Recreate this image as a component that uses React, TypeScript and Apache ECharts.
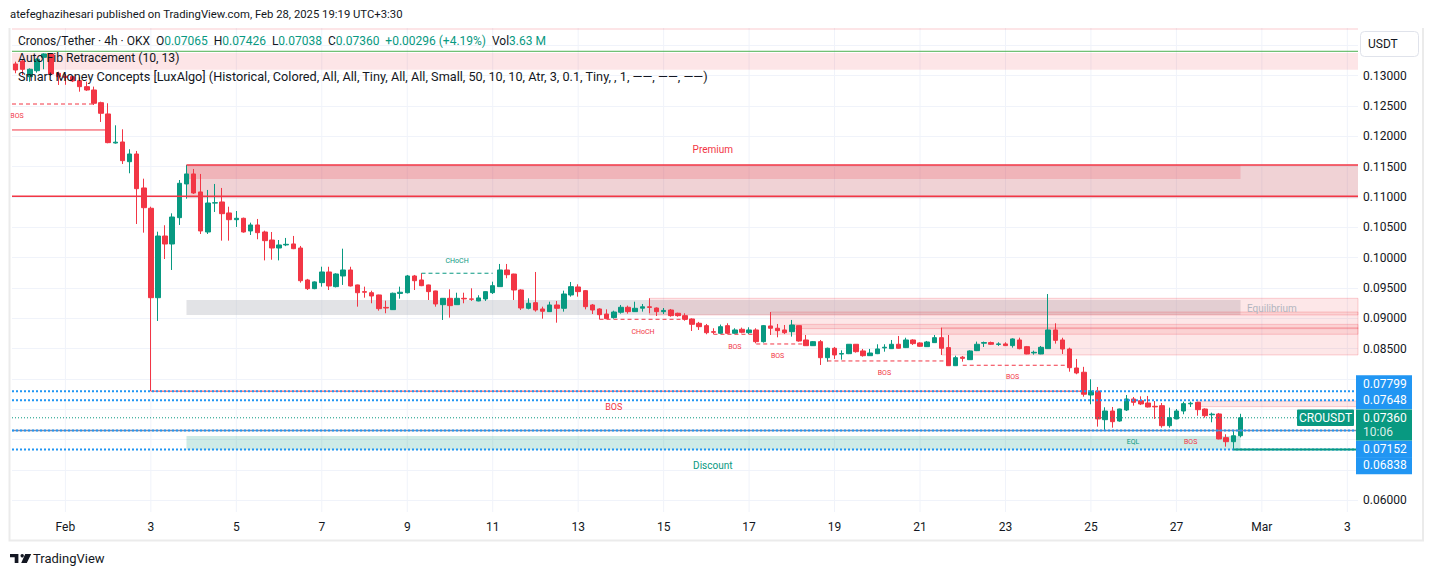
import { useEffect, useRef } from 'react';
import * as echarts from 'echarts';

const FONT = 'Roboto, "Noto Sans", sans-serif';
const TEXT = '#131722';
const UP = '#089981';
const DOWN = '#f23645';
const BLUE = '#2196f3';

// ---- time slots (4h candles) ----
const START_UTC = Date.UTC(2025, 0, 30, 20);
const SLOT_MS = 4 * 3600 * 1000;
const SLOT_COUNT = 189;
const MONTHS = ['Jan', 'Feb', 'Mar'];

// ---- price axis ----
const PRICE_MIN = 0.05807;
const PRICE_MAX = 0.13786;
const PRICE_STEP = 0.005;
// tick labels hidden behind the currency box and the price tags
const hiddenTickRanges: number[][] = [[0.1325, 1], [0.0625, 0.0825]];

// ---- candles: [open, close, low, high] ----
const candles: number[][] = [
  [0.13193, 0.13094, 0.1304, 0.13231], [0.13242, 0.13105, 0.13011, 0.13259], [0.12984, 0.13106, 0.12901, 0.1312],
  [0.13082, 0.1327, 0.1305, 0.13287], [0.13303, 0.13358, 0.13106, 0.13369], [0.13358, 0.13028, 0.12995, 0.1337],
  [0.1304, 0.12984, 0.12847, 0.13066], [0.1299, 0.1297, 0.1285, 0.1303], [0.12984, 0.12913, 0.12895, 0.12995],
  [0.12918, 0.12819, 0.12736, 0.12973], [0.12819, 0.12764, 0.1275, 0.12901], [0.12764, 0.12545, 0.12517, 0.1282],
  [0.12555, 0.1238, 0.12237, 0.12571], [0.12369, 0.11896, 0.11886, 0.12545], [0.1189, 0.11904, 0.1188, 0.12182],
  [0.11907, 0.11599, 0.11544, 0.12116], [0.11582, 0.11709, 0.11391, 0.11787], [0.11709, 0.11137, 0.10555, 0.11759],
  [0.11149, 0.10824, 0.10412, 0.11302], [0.10814, 0.0934, 0.07799, 0.1084], [0.0934, 0.10357, 0.08956, 0.10428],
  [0.10357, 0.10225, 0.09978, 0.10534], [0.10225, 0.1067, 0.09797, 0.10731], [0.10659, 0.11226, 0.10539, 0.1128],
  [0.11215, 0.1138, 0.10972, 0.11528], [0.1138, 0.11066, 0.1105, 0.11462], [0.11083, 0.1044, 0.1039, 0.1138],
  [0.10423, 0.10901, 0.1039, 0.11116], [0.109, 0.10906, 0.10753, 0.11215], [0.10918, 0.10725, 0.1028, 0.11149],
  [0.10737, 0.10626, 0.1028, 0.1084], [0.10626, 0.10649, 0.10506, 0.10769], [0.10649, 0.10423, 0.10412, 0.1066],
  [0.1044, 0.10539, 0.10374, 0.10577], [0.10539, 0.10412, 0.10303, 0.10638], [0.10423, 0.1028, 0.09955, 0.10445],
  [0.10291, 0.10159, 0.09966, 0.10423], [0.10159, 0.10209, 0.09955, 0.10291], [0.1021, 0.1022, 0.1019, 0.10325],
  [0.10226, 0.10148, 0.1014, 0.10358], [0.10159, 0.0962, 0.09588, 0.10193], [0.09632, 0.09489, 0.09467, 0.0965],
  [0.09489, 0.096, 0.0948, 0.0961], [0.09588, 0.09764, 0.09522, 0.09851], [0.09764, 0.09533, 0.09467, 0.0985],
  [0.09522, 0.09731, 0.0951, 0.09743], [0.09698, 0.09797, 0.0955, 0.10148], [0.09797, 0.09533, 0.09525, 0.0985],
  [0.0955, 0.09422, 0.09192, 0.09555], [0.0944, 0.0943, 0.0934, 0.09522], [0.09422, 0.09368, 0.09248, 0.09455],
  [0.09385, 0.09159, 0.09126, 0.0939], [0.0918, 0.0917, 0.09083, 0.09291], [0.09143, 0.09413, 0.09137, 0.09424],
  [0.0941, 0.0943, 0.09324, 0.09522], [0.09422, 0.09698, 0.0941, 0.09715], [0.09698, 0.0962, 0.09467, 0.09715],
  [0.09632, 0.09538, 0.0953, 0.09743], [0.0955, 0.0944, 0.09302, 0.09555], [0.09451, 0.09236, 0.09192, 0.09455],
  [0.09225, 0.0933, 0.08973, 0.09335], [0.0933, 0.09209, 0.09011, 0.09478], [0.09225, 0.0933, 0.0922, 0.09422],
  [0.0933, 0.0932, 0.09248, 0.09422], [0.0932, 0.09314, 0.09286, 0.09495], [0.09286, 0.09336, 0.0928, 0.0938],
  [0.09319, 0.0944, 0.09286, 0.09445], [0.09423, 0.09538, 0.09401, 0.09604], [0.09522, 0.09797, 0.09522, 0.09896],
  [0.09797, 0.09719, 0.0966, 0.09896], [0.0973, 0.09467, 0.09302, 0.09735], [0.09467, 0.0917, 0.09137, 0.09478],
  [0.09165, 0.09248, 0.09148, 0.0933], [0.09258, 0.09137, 0.0911, 0.09764], [0.09154, 0.09116, 0.08994, 0.09192],
  [0.0911, 0.0922, 0.09105, 0.09274], [0.0922, 0.09165, 0.08928, 0.09286], [0.09165, 0.09401, 0.0911, 0.09456],
  [0.09385, 0.09522, 0.09357, 0.09599], [0.09517, 0.0944, 0.09357, 0.09561], [0.09456, 0.09192, 0.09148, 0.09467],
  [0.0922, 0.09137, 0.09071, 0.09236], [0.09154, 0.0906, 0.08984, 0.09165], [0.09071, 0.08994, 0.0899, 0.09148],
  [0.09011, 0.09104, 0.08994, 0.09126], [0.091, 0.09182, 0.09077, 0.0922], [0.09182, 0.0911, 0.09077, 0.09209],
  [0.0911, 0.09165, 0.09105, 0.09274], [0.09167, 0.0919, 0.0911, 0.09236], [0.0919, 0.0918, 0.09083, 0.0933],
  [0.0917, 0.0911, 0.09038, 0.0918], [0.0911, 0.0913, 0.09071, 0.0917], [0.09137, 0.09044, 0.09027, 0.09154],
  [0.09083, 0.09044, 0.09027, 0.09093], [0.09044, 0.08984, 0.08961, 0.09083], [0.08989, 0.08901, 0.08791, 0.09],
  [0.08918, 0.08862, 0.08808, 0.08941], [0.08879, 0.08763, 0.08737, 0.08907], [0.0878, 0.0877, 0.0874, 0.08836],
  [0.08753, 0.08862, 0.0874, 0.08897], [0.08879, 0.08753, 0.0874, 0.08918], [0.08753, 0.08808, 0.0874, 0.08836],
  [0.08819, 0.0877, 0.08753, 0.08847], [0.08763, 0.08808, 0.0874, 0.08852], [0.08808, 0.08615, 0.08588, 0.08836],
  [0.08615, 0.08879, 0.08599, 0.0889], [0.08874, 0.08836, 0.08725, 0.09104], [0.08836, 0.08797, 0.08687, 0.08907],
  [0.08808, 0.08763, 0.0874, 0.0889], [0.0878, 0.0889, 0.08698, 0.08973], [0.08879, 0.08626, 0.08615, 0.08879],
  [0.08643, 0.08549, 0.08545, 0.08725], [0.08549, 0.08615, 0.08545, 0.08626], [0.08615, 0.08351, 0.08231, 0.08643],
  [0.08351, 0.08506, 0.08285, 0.08517], [0.08506, 0.08396, 0.0833, 0.08528], [0.0841, 0.0842, 0.08318, 0.08473],
  [0.08417, 0.08572, 0.0841, 0.08575], [0.08572, 0.0845, 0.08434, 0.08575], [0.08462, 0.08384, 0.08368, 0.08495],
  [0.08384, 0.08428, 0.08379, 0.08495], [0.08417, 0.08495, 0.0841, 0.08572], [0.08512, 0.08523, 0.0845, 0.08572],
  [0.085, 0.08572, 0.08495, 0.08643], [0.08572, 0.08506, 0.085, 0.08709], [0.08517, 0.08643, 0.0851, 0.0868],
  [0.08643, 0.08583, 0.08561, 0.08654], [0.08594, 0.08539, 0.08528, 0.08605], [0.08533, 0.0861, 0.08528, 0.08627],
  [0.08599, 0.08681, 0.08595, 0.08725], [0.08681, 0.08506, 0.08396, 0.08846], [0.08517, 0.08219, 0.08215, 0.08725],
  [0.08219, 0.08351, 0.08215, 0.08384], [0.0836, 0.0834, 0.08285, 0.08379], [0.08318, 0.08462, 0.08315, 0.08473],
  [0.08467, 0.08572, 0.0846, 0.08616], [0.0859, 0.086, 0.08528, 0.08616], [0.086, 0.08572, 0.08561, 0.08616],
  [0.0857, 0.08578, 0.08545, 0.08605], [0.08578, 0.0855, 0.08545, 0.08605], [0.0855, 0.0866, 0.08517, 0.0867],
  [0.08643, 0.085, 0.08489, 0.08681], [0.08533, 0.08412, 0.08408, 0.08544], [0.0843, 0.0844, 0.08401, 0.08467],
  [0.08412, 0.08522, 0.08408, 0.08544], [0.085, 0.08808, 0.08495, 0.094], [0.08808, 0.08637, 0.08583, 0.08918],
  [0.08643, 0.08494, 0.08412, 0.0868], [0.08494, 0.08186, 0.0812, 0.08516], [0.08181, 0.08099, 0.08078, 0.0833],
  [0.08111, 0.07748, 0.07708, 0.082], [0.07736, 0.07802, 0.07583, 0.07995], [0.07802, 0.07341, 0.07214, 0.07868],
  [0.07329, 0.07472, 0.07159, 0.07533], [0.07472, 0.07296, 0.07197, 0.07538], [0.07307, 0.07505, 0.07296, 0.0751],
  [0.07489, 0.0767, 0.07472, 0.07736], [0.0767, 0.07615, 0.0756, 0.07703], [0.07642, 0.07588, 0.0757, 0.07714],
  [0.07604, 0.07538, 0.0753, 0.0772], [0.0755, 0.0754, 0.07341, 0.07637], [0.0756, 0.0723, 0.07197, 0.07604],
  [0.0723, 0.07362, 0.07197, 0.07527], [0.07341, 0.07472, 0.07335, 0.07505], [0.07472, 0.07593, 0.07418, 0.07626],
  [0.0759, 0.076, 0.07538, 0.07626], [0.07615, 0.07494, 0.07395, 0.07626], [0.07505, 0.07395, 0.07362, 0.07516],
  [0.0741, 0.0742, 0.07286, 0.07445], [0.07423, 0.07011, 0.07005, 0.0744], [0.07033, 0.06966, 0.06884, 0.07088],
  [0.06966, 0.07064, 0.06838, 0.07143], [0.07065, 0.0736, 0.07038, 0.07426],
];

// ---- indicator overlays (index units, prices) ----
const LEFT = -0.5;
const RIGHT = SLOT_COUNT - 0.5;

const fibBands: number[][] = [[0.13786, 0.13753], [0.13374, 0.13099]];
const fibLevel = 0.13402;

const premiumZone = [24, RIGHT, 0.11528, 0.10979];
const premiumInner = [24, 172, 0.11528, 0.11297];
const equilibriumZone = [24, 172, 0.093, 0.09055];
const discountZone = [24, 172, 0.0706, 0.06834];
const bearishBlocks: number[][] = [
  [89, RIGHT, 0.0933, 0.09055],
  [106, RIGHT, 0.09104, 0.08737],
  [109, RIGHT, 0.089, 0.0883],
  [130, RIGHT, 0.08846, 0.08396],
  [166, RIGHT, 0.07637, 0.07544],
];

const bosDashed: number[][] = [
  [LEFT, 11.2, 0.12533], [98, 104, 0.08737], [104, 111, 0.08577], [114, 131, 0.08297], [133, 148, 0.08226],
];
const bosSolid: number[][] = [[LEFT, 12.8, 0.12105], [19, 150, 0.07799]];
const chochBull: number[][] = [[57, 67, 0.09743]];
const chochBear: number[][] = [[82, 94.3, 0.08984]];
const redLevel = 0.11012;
const strongLow = [171, RIGHT, 0.06838];

const redTinyLabels: [number, number, string][] = [
  [0.2, 0.12343, 'BOS'], [88.1, 0.0878, 'CHoCH'], [101, 0.08533, 'BOS'], [107, 0.08374, 'BOS'],
  [122, 0.08094, 'BOS'], [140, 0.08028, 'BOS'], [165, 0.0696, 'BOS'],
];
const tealTinyLabels: [number, number, string][] = [[62, 0.0995, 'CHoCH'], [156.9, 0.0696, 'EQL']];
const redSmallLabels: [number, number, string][] = [[84, 0.07536, 'BOS']];
const zoneLabels: [number, number, string][] = [[97.9, 0.11787, 'Premium'], [176.4, 0.0917, 'Equilibrium'], [97.9, 0.06566, 'Discount']];

const levelPrices = [0.07799, 0.07648, 0.07152, 0.06838];
const CURRENT_INDEX = 172;
const CURRENT_LINE_END = 179.9;
const COUNTDOWN = '10:06';
const VOLUME = '3.63 M';

// ---- helpers ----
function slotDate(i: number) {
  return new Date(START_UTC + i * SLOT_MS);
}
const categories = Array.from({ length: SLOT_COUNT }, (_, i) => slotDate(i).toISOString().slice(0, 16));
const dayLabels: (string | null)[] = categories.map((_, i) => {
  const d = slotDate(i);
  if (d.getUTCHours() !== 0 || d.getUTCMonth() === 0) return null;
  const day = d.getUTCDate();
  if ((day - 1) % 2 !== 0) return null;
  return day === 1 ? MONTHS[d.getUTCMonth()] : String(day);
});

echarts.graphic.registerShape(
  'tvLogo',
  echarts.graphic.extendPath('M0 0H8.4V9H4.7V3.3H0Z M15.2 0H21.2L16.8 9H11.2Z', {})
);

type Item =
  | { kind: 'rect'; x0: number; x1: number; top: number; bottom: number; fill: string; stroke?: string }
  | { kind: 'line'; x0: number; x1: number; y0: number; y1: number; color: string; width: number; dash?: number[] }
  | { kind: 'text'; x: number; y: number; text: string; color: string; size: number };

function buildBack(): Item[] {
  const items: Item[] = [];
  dayLabels.forEach((l, i) => {
    if (l !== null) items.push({ kind: 'line', x0: i, x1: i, y0: PRICE_MAX, y1: PRICE_MIN, color: '#f0f3fa', width: 1 });
  });
  fibBands.forEach(([t, b]) => items.push({ kind: 'rect', x0: LEFT, x1: RIGHT, top: t, bottom: b, fill: 'rgba(242,54,69,0.13)' }));
  items.push({ kind: 'rect', x0: premiumZone[0], x1: premiumZone[1], top: premiumZone[2], bottom: premiumZone[3], fill: 'rgba(195,75,87,0.25)' });
  items.push({ kind: 'rect', x0: premiumInner[0], x1: premiumInner[1], top: premiumInner[2], bottom: premiumInner[3], fill: 'rgba(240,60,73,0.2)' });
  items.push({ kind: 'rect', x0: equilibriumZone[0], x1: equilibriumZone[1], top: equilibriumZone[2], bottom: equilibriumZone[3], fill: 'rgba(178,181,190,0.38)' });
  bearishBlocks.forEach(([a, b, t, btm]) =>
    items.push({ kind: 'rect', x0: a, x1: b, top: t, bottom: btm, fill: 'rgba(242,54,69,0.12)', stroke: 'rgba(242,54,69,0.22)' })
  );
  items.push({ kind: 'rect', x0: discountZone[0], x1: discountZone[1], top: discountZone[2], bottom: discountZone[3], fill: 'rgba(8,153,129,0.2)' });
  return items;
}

function buildFront(): Item[] {
  const items: Item[] = [];
  const line = (x0: number, x1: number, y: number, color: string, width: number, dash?: number[]) =>
    items.push({ kind: 'line', x0, x1, y0: y, y1: y, color, width, dash });
  line(LEFT, RIGHT, fibLevel, '#4caf50', 1);
  line(LEFT, RIGHT, redLevel, DOWN, 1.5);
  line(premiumZone[0], premiumZone[1], premiumZone[2], DOWN, 1.5);
  bosDashed.forEach(([a, b, y]) => line(a, b, y, DOWN, 1, [4, 3]));
  chochBear.forEach(([a, b, y]) => line(a, b, y, DOWN, 1, [4, 3]));
  chochBull.forEach(([a, b, y]) => line(a, b, y, UP, 1, [4, 3]));
  line(LEFT, RIGHT, levelPrices[2], '#7f8bac', 1.5);
  bosSolid.forEach(([a, b, y]) => line(a, b, y, DOWN, 1));
  line(LEFT, CURRENT_LINE_END, candles[CURRENT_INDEX][1], UP, 1, [1, 2]);
  levelPrices.forEach((p) => line(LEFT, RIGHT, p, BLUE, 2, [2, 2]));
  line(strongLow[0], strongLow[1], strongLow[2], UP, 2);
  redTinyLabels.forEach(([x, y, t]) => items.push({ kind: 'text', x, y, text: t, color: DOWN, size: 7 }));
  tealTinyLabels.forEach(([x, y, t]) => items.push({ kind: 'text', x, y, text: t, color: UP, size: 7 }));
  redSmallLabels.forEach(([x, y, t]) => items.push({ kind: 'text', x, y, text: t, color: DOWN, size: 9 }));
  items.push({ kind: 'text', x: zoneLabels[0][0], y: zoneLabels[0][1], text: zoneLabels[0][2], color: DOWN, size: 10 });
  items.push({ kind: 'text', x: zoneLabels[1][0], y: zoneLabels[1][1], text: zoneLabels[1][2], color: '#b2b5be', size: 10 });
  items.push({ kind: 'text', x: zoneLabels[2][0], y: zoneLabels[2][1], text: zoneLabels[2][2], color: UP, size: 10 });
  return items;
}

function renderer(items: Item[]) {
  return (params: any, api: any) => {
    const it = items[params.dataIndex];
    if (it.kind === 'rect') {
      const a = api.coord([it.x0, it.top]);
      const b = api.coord([it.x1, it.bottom]);
      return {
        type: 'rect',
        shape: { x: a[0], y: a[1], width: b[0] - a[0], height: b[1] - a[1] },
        style: { fill: it.fill, stroke: it.stroke || null, lineWidth: it.stroke ? 1 : 0 },
      };
    }
    if (it.kind === 'line') {
      const a = api.coord([it.x0, it.y0]);
      const b = api.coord([it.x1, it.y1]);
      return {
        type: 'line',
        shape: { x1: a[0], y1: a[1], x2: b[0], y2: b[1] },
        style: { stroke: it.color, lineWidth: it.width, lineDash: it.dash || null },
      };
    }
    const p = api.coord([it.x, it.y]);
    return {
      type: 'text',
      x: p[0],
      y: p[1],
      style: {
        text: it.text, fill: it.color, fontSize: it.size, fontFamily: FONT,
        align: 'center', verticalAlign: 'middle', textAlign: 'center', textVerticalAlign: 'middle',
      },
    };
  };
}

function itemData(items: Item[]) {
  return items.map((it) => (it.kind === 'text' ? [it.x, it.y] : it.kind === 'rect' ? [it.x0, it.top] : [it.x0, it.y0]));
}

function txt(x: number, y: number, text: string, size: number, fill: string, align = 'left', extra: any = {}) {
  return {
    type: 'text', x, y, z: 100,
    style: {
      text, fill, fontSize: size, fontFamily: FONT,
      align, textAlign: align, verticalAlign: 'middle', textVerticalAlign: 'middle', ...extra,
    },
  };
}

export default function App() {
  const ref = useRef<HTMLDivElement>(null);
  useEffect(() => {
    if (!ref.current) return;
    const chart = echarts.init(ref.current, undefined, { renderer: 'svg' });
    const back = buildBack();
    const front = buildFront();
    chart.setOption({
      animation: false,
      backgroundColor: '#ffffff',
      grid: { left: 12, right: 75, top: 28, bottom: 64, containLabel: false },
      xAxis: [
        {
          type: 'category', data: categories, boundaryGap: true,
          axisLine: { show: false }, axisTick: { show: false }, splitLine: { show: false },
          axisLabel: {
            interval: (i: number) => dayLabels[i] !== null,
            formatter: (_v: string, i: number) => dayLabels[i] || '',
            color: TEXT, fontSize: 12, fontFamily: FONT, margin: 9,
          },
        },
        { type: 'value', min: LEFT, max: RIGHT, show: false },
      ],
      yAxis: {
        type: 'value', position: 'right', min: PRICE_MIN, max: PRICE_MAX, scale: true,
        minInterval: PRICE_STEP, maxInterval: PRICE_STEP, splitNumber: 16,
        axisLine: { show: false }, axisTick: { show: false },
        splitLine: { show: true, showMinLine: false, showMaxLine: false, lineStyle: { color: '#f0f3fa', width: 1 } },
        axisLabel: {
          formatter: (v: number) =>
            hiddenTickRanges.some(([a, b]) => v > a && v < b) ? '' : v.toFixed(5),
          color: TEXT, fontSize: 12, fontFamily: FONT, margin: 5,
          showMinLabel: false, showMaxLabel: false,
        },
      },
      series: [
        {
          type: 'custom', xAxisIndex: 1, yAxisIndex: 0, z: 1, silent: true,
          data: itemData(back), renderItem: renderer(back),
        },
        {
          type: 'candlestick', xAxisIndex: 0, yAxisIndex: 0, z: 3, barWidth: 5,
          data: candles,
          itemStyle: { color: UP, color0: DOWN, borderColor: UP, borderColor0: DOWN, borderWidth: 1 },
        },
        {
          type: 'custom', xAxisIndex: 1, yAxisIndex: 0, z: 5, silent: true,
          data: itemData(front), renderItem: renderer(front),
        },
      ],
    });

    const yPix = (v: number) => chart.convertToPixel({ yAxisIndex: 0 }, v) as number;
    const last = candles[CURRENT_INDEX];
    const prev = candles[CURRENT_INDEX - 1];
    const cur = last[1];
    const change = cur - prev[1];
    const pct = (change / prev[1]) * 100;

    const TAG_X = 1356;
    const TAG_W = 56;
    const TAG_H = 16.7;
    const CUR_H = 31;
    const curY = yPix(cur);
    const curTop = curY - TAG_H / 2;
    const tags: any[] = [];
    let prevTop = curTop;
    levelPrices.filter((v) => v > cur).sort((a, b) => a - b).forEach((v) => {
      const c = Math.min(yPix(v), prevTop - TAG_H / 2);
      prevTop = c - TAG_H / 2;
      tags.push({ v, c });
    });
    let prevBottom = curTop + CUR_H;
    levelPrices.filter((v) => v < cur).sort((a, b) => b - a).forEach((v) => {
      const c = Math.max(yPix(v), prevBottom + TAG_H / 2);
      prevBottom = c + TAG_H / 2;
      tags.push({ v, c });
    });

    const graphic: any[] = [];
    graphic.push({
      type: 'polyline', z: 90,
      shape: { points: [[9.5, 28], [9.5, 540.5], [1423, 540.5], [1423, 28]] },
      style: { stroke: '#ebebeb', lineWidth: 2, fill: null },
    });
    graphic.push(txt(10, 14, 'atefeghazihesari published on TradingView.com, Feb 28, 2025 19:19 UTC+3:30', 11.3, TEXT));
    const legend =
      `{k|Cronos/Tether · 4h · OKX}  {k|O}{v|${last[0].toFixed(5)}}  {k|H}{v|${last[3].toFixed(5)}}  ` +
      `{k|L}{v|${last[2].toFixed(5)}}  {k|C}{v|${last[1].toFixed(5)}}  ` +
      `{v|+${change.toFixed(5)} (+${pct.toFixed(2)}%)}  {k|Vol}{v|${VOLUME}}`;
    graphic.push(txt(18, 41, legend, 12, TEXT, 'left', {
      rich: {
        k: { fill: TEXT, fontSize: 12, fontFamily: FONT },
        v: { fill: UP, fontSize: 12, fontFamily: FONT },
      },
    }));
    graphic.push(txt(18, 58, 'Auto Fib Retracement (10, 13)', 12.2, TEXT));
    graphic.push(txt(18, 76, 'Smart Money Concepts [LuxAlgo] (Historical, Colored, All, All, Tiny, All, All, Small, 50, 10, 10, Atr, 3, 0.1, Tiny, , 1, ——, ——, ——)', 12.7, TEXT));
    graphic.push({
      type: 'rect', z: 100, shape: { x: 1360.5, y: 31.5, width: 58, height: 25, r: 4 },
      style: { fill: '#ffffff', stroke: '#e0e3eb', lineWidth: 1 },
    });
    graphic.push(txt(1368, 44, 'USDT', 12, TEXT));
    graphic.push({ type: 'tvLogo', x: 10, y: 554, scaleX: 1, scaleY: 1, z: 100, style: { fill: TEXT } });
    graphic.push({ type: 'circle', z: 100, shape: { cx: 22.2, cy: 555.7, r: 1.7 }, style: { fill: TEXT } });
    graphic.push(txt(33, 558, 'TradingView', 13, TEXT));
    tags.forEach(({ v, c }) => {
      graphic.push({
        type: 'rect', z: 110, shape: { x: TAG_X, y: c - TAG_H / 2, width: TAG_W, height: TAG_H + 0.5 },
        style: { fill: BLUE },
      });
      graphic.push({ ...txt(1363, c, v.toFixed(5), 12, '#ffffff'), z: 111 });
    });
    graphic.push({
      type: 'rect', z: 110, shape: { x: TAG_X, y: curTop, width: TAG_W, height: CUR_H },
      style: { fill: UP },
    });
    graphic.push({ ...txt(1363, curY, cur.toFixed(5), 12, '#ffffff'), z: 111 });
    graphic.push({ ...txt(1363, curY + 14, COUNTDOWN, 12, 'rgba(255,255,255,0.85)'), z: 111 });
    graphic.push({
      type: 'rect', z: 110, shape: { x: 1297, y: curY - 8.3, width: 57, height: 16.6, r: 1 },
      style: { fill: UP },
    });
    graphic.push({ ...txt(1325.5, curY, 'CROUSDT', 12, '#ffffff', 'center'), z: 111 });

    chart.setOption({ graphic });

    return () => chart.dispose();
  }, []);
  return <div ref={ref} style={{ position: 'fixed', left: 0, top: 0, width: 1433, height: 576 }} />;
}
